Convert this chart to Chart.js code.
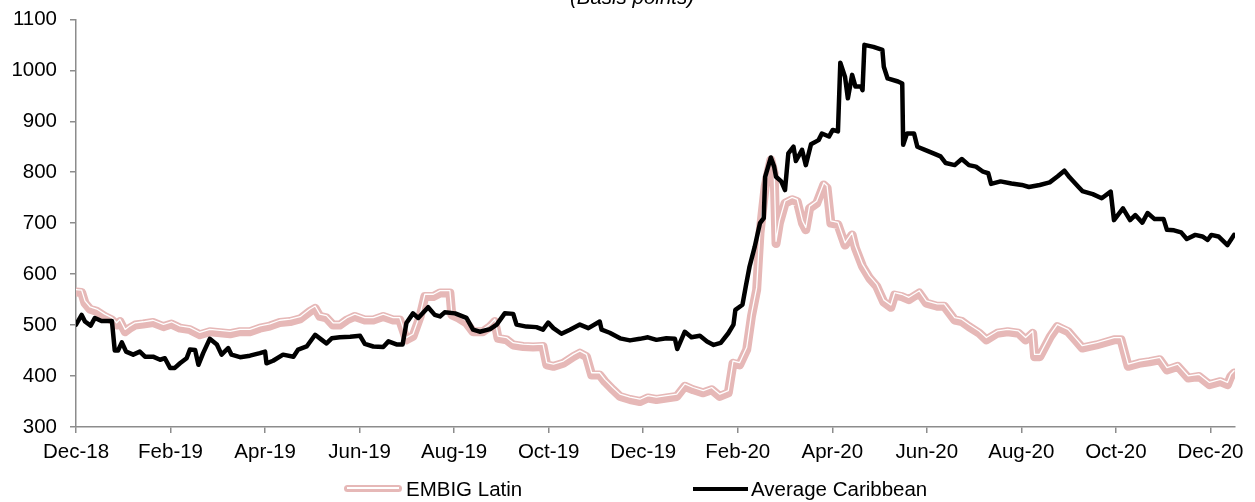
<!DOCTYPE html>
<html>
<head>
<meta charset="utf-8">
<script src="https://cdn.jsdelivr.net/npm/chart.js@4.4.1/dist/chart.umd.min.js"></script>
<style>
  html, body { margin: 0; padding: 0; background: #fff; }
  #wrap { position: relative; width: 1255px; height: 502px; overflow: hidden; font-family: "Liberation Sans", Arial, sans-serif; color: #000; }
  #chart { position: absolute; left: 0; top: 0; }
  .title { position: absolute; left: 0; width: 1264px; top: -13px; text-align: center; font-style: italic; font-size: 20.5px; line-height: 20.5px; }
  .lg-text { position: absolute; top: 477px; font-size: 20.5px; line-height: 24px; white-space: nowrap; }
  .sw-pink { position: absolute; left: 344px; top: 485px; width: 58px; height: 7px; background: #E6B8B7; border-radius: 4px; }
  .sw-pink::after { content: ""; position: absolute; left: 3px; right: 3px; top: 2px; height: 1.5px; background: #fff; }
  .sw-black { position: absolute; left: 693px; top: 487px; width: 55px; height: 4px; background: #000; }
</style>
</head>
<body>
<div id="wrap">
  <canvas id="chart" width="1255" height="502"></canvas>
  <div class="title">(Basis points)</div>
  <div class="sw-pink"></div>
  <div class="lg-text" style="left:406px">EMBIG Latin</div>
  <div class="sw-black"></div>
  <div class="lg-text" style="left:751px">Average Caribbean</div>
</div>
<script>
(() => {
    'use strict';

    // x values are months since the Dec-18 tick
    const tickMonths = [0, 2, 4, 6, 8, 10, 12, 14, 16, 18, 20, 22, 24];
    const tickLabels = ["Dec-18", "Feb-19", "Apr-19", "Jun-19", "Aug-19", "Oct-19", "Dec-19",
        "Feb-20", "Apr-20", "Jun-20", "Aug-20", "Oct-20", "Dec-20"];
    const yTicks = [300, 400, 500, 600, 700, 800, 900, 1000, 1100];

    const caribMonths = [
        0.00, 0.12, 0.19, 0.31, 0.40, 0.54, 0.76, 0.82, 0.89, 0.97,
        1.06, 1.21, 1.35, 1.46, 1.63, 1.78, 1.88, 1.99, 2.09, 2.20,
        2.34, 2.41, 2.52, 2.59, 2.69, 2.83, 2.98, 3.08, 3.22, 3.29,
        3.47, 3.68, 3.89, 4.00, 4.03, 4.17, 4.38, 4.60, 4.70, 4.88,
        5.06, 5.20, 5.30, 5.41, 5.58, 5.80, 6.01, 6.11, 6.29, 6.50,
        6.61, 6.78, 6.91, 6.99, 7.13, 7.24, 7.45, 7.59, 7.70, 7.80,
        8.02, 8.26, 8.40, 8.54, 8.76, 8.90, 9.07, 9.25, 9.32, 9.53,
        9.74, 9.88, 9.99, 10.10, 10.27, 10.45, 10.66, 10.84, 11.08, 11.12,
        11.29, 11.51, 11.72, 11.93, 12.10, 12.28, 12.49, 12.67, 12.72, 12.88,
        13.02, 13.20, 13.35, 13.49, 13.64, 13.80, 13.91, 13.95, 14.10, 14.17,
        14.25, 14.36, 14.47, 14.55, 14.58, 14.70, 14.77, 14.81, 14.92, 15.00,
        15.07, 15.18, 15.23, 15.36, 15.44, 15.55, 15.71, 15.78, 15.93, 16.01,
        16.12, 16.17, 16.27, 16.33, 16.42, 16.49, 16.61, 16.64, 16.68, 16.87,
        17.06, 17.09, 17.17, 17.39, 17.48, 17.50, 17.58, 17.73, 17.80, 17.96,
        18.14, 18.29, 18.40, 18.59, 18.74, 18.89, 19.04, 19.19, 19.30, 19.36,
        19.56, 19.79, 20.01, 20.16, 20.39, 20.60, 20.77, 20.91, 21.02, 21.21,
        21.29, 21.51, 21.70, 21.89, 21.96, 22.15, 22.30, 22.41, 22.56, 22.67,
        22.82, 23.01, 23.08, 23.23, 23.38, 23.50, 23.68, 23.83, 23.94, 24.02,
        24.17, 24.36, 24.43, 24.50
    ];
    const caribValues = [
        501, 520, 507, 499, 514, 508, 508, 450, 450, 466,
        448, 442, 448, 438, 438, 432, 435, 416, 416, 425,
        435, 452, 451, 422, 445, 473, 462, 442, 455, 442,
        437, 440, 445, 448, 425, 430, 442, 438, 452, 458,
        481, 471, 464, 474, 476, 477, 479, 463, 458, 457,
        468, 462, 462, 504, 523, 514, 535, 520, 517, 525,
        523, 514, 491, 487, 492, 501, 523, 522, 501, 497,
        496, 491, 505, 494, 483, 491, 501, 494, 507, 491,
        485, 474, 470, 473, 476, 471, 474, 473, 453, 487,
        476, 479, 468, 461, 465, 484, 501, 530, 540, 576,
        615, 654, 700, 710, 791, 829, 811, 791, 782, 765,
        837, 850, 822, 844, 814, 855, 863, 876, 870, 883,
        880, 1015, 987, 945, 991, 968, 968, 961, 1050, 1046,
        1040, 1007, 984, 978, 974, 854, 876, 876, 850, 844,
        837, 831, 818, 814, 826, 814, 811, 801, 798, 777,
        782, 778, 775, 771, 775, 780, 792, 803, 790, 771,
        763, 757, 749, 762, 706, 729, 706, 716, 701, 720,
        708, 708, 687, 686, 682, 669, 677, 674, 667, 677,
        674, 657, 667, 677
    ];

    const latinMonths = [
        0.00, 0.12, 0.19, 0.30, 0.44, 0.61, 0.76, 0.86, 0.93, 1.04,
        1.14, 1.25, 1.42, 1.63, 1.85, 2.02, 2.20, 2.41, 2.62, 2.83,
        3.05, 3.26, 3.47, 3.68, 3.89, 4.10, 4.31, 4.53, 4.74, 4.95,
        5.06, 5.16, 5.30, 5.44, 5.58, 5.73, 5.90, 6.11, 6.29, 6.50,
        6.71, 6.85, 6.99, 7.13, 7.28, 7.38, 7.56, 7.70, 7.91, 7.95,
        8.09, 8.26, 8.40, 8.61, 8.76, 8.86, 8.93, 9.11, 9.25, 9.46,
        9.67, 9.88, 9.96, 10.10, 10.31, 10.52, 10.66, 10.80, 10.91, 11.08,
        11.19, 11.36, 11.51, 11.72, 11.93, 12.10, 12.28, 12.49, 12.71, 12.88,
        13.06, 13.27, 13.45, 13.62, 13.80, 13.90, 14.04, 14.19, 14.29, 14.40,
        14.47, 14.58, 14.70, 14.77, 14.81, 14.88, 15.00, 15.15, 15.26, 15.37,
        15.44, 15.52, 15.67, 15.82, 15.89, 15.97, 16.12, 16.27, 16.42, 16.49,
        16.64, 16.79, 16.94, 17.09, 17.24, 17.32, 17.47, 17.62, 17.84, 17.99,
        18.22, 18.37, 18.59, 18.74, 18.89, 19.11, 19.26, 19.49, 19.71, 19.94,
        20.09, 20.24, 20.28, 20.39, 20.61, 20.76, 20.99, 21.14, 21.29, 21.59,
        21.96, 22.11, 22.26, 22.49, 22.71, 22.93, 23.08, 23.31, 23.53, 23.76,
        23.98, 24.21, 24.36, 24.43, 24.50
    ];
    const latinValues = [
        565, 564, 543, 531, 527, 517, 510, 500, 507, 487,
        494, 500, 502, 505, 497, 502, 494, 491, 481, 487,
        485, 483, 487, 487, 494, 498, 505, 507, 512, 527,
        533, 517, 514, 500, 500, 510, 517, 510, 510, 517,
        510, 510, 471, 478, 517, 556, 556, 563, 563, 520,
        514, 504, 487, 487, 497, 507, 474, 471, 461, 458,
        457, 458, 422, 419, 425, 438, 445, 438, 402, 402,
        389, 373, 360, 354, 350, 357, 354, 357, 360, 380,
        373, 367, 373, 360, 367, 425, 422, 452, 517, 569,
        680, 772, 824, 798, 660, 700, 739, 746, 742, 700,
        687, 729, 739, 775, 769, 700, 697, 657, 677, 651,
        615, 592, 576, 545, 535, 559, 556, 550, 563, 543,
        537, 537, 510, 507, 497, 484, 471, 484, 487, 484,
        471, 484, 438, 438, 477, 497, 487, 471, 455, 461,
        471, 471, 419, 425, 428, 432, 412, 419, 396, 399,
        383, 389, 383, 399, 406
    ];

    const toPoints = (xs, ys) => xs.map((x, i) => ({ x: x, y: ys[i] }));

    const FAMILY = "'Liberation Sans', Arial, sans-serif";
    const AXIS_GREY = "#8c8c8c";

    // lifts the thin white line toward the top edge of the pink band
    const shiftPlugin = {
        id: "shiftLine",
        beforeDatasetDraw(chart, args) {
            const ds = chart.data.datasets[args.index];
            if (ds.shiftY) {
                chart.ctx.save();
                chart.ctx.translate(0, ds.shiftY);
            }
        },
        afterDatasetDraw(chart, args) {
            if (chart.data.datasets[args.index].shiftY) {
                chart.ctx.restore();
            }
        }
    };

    const lineBase = {
        fill: false,
        tension: 0,
        pointRadius: 0,
        pointHoverRadius: 0,
        borderJoinStyle: "round",
        borderCapStyle: "round"
    };

    new Chart(document.getElementById("chart").getContext("2d"), {
        type: "line",
        data: {
            datasets: [
                Object.assign({}, lineBase, {
                    label: "Average Caribbean",
                    data: toPoints(caribMonths, caribValues),
                    borderColor: "#000000",
                    borderWidth: 4.5,
                    order: 0
                }),
                Object.assign({}, lineBase, {
                    label: "EMBIG Latin inner",
                    data: toPoints(latinMonths, latinValues),
                    borderColor: "#ffffff",
                    borderWidth: 1.3,
                    shiftY: -2.3,
                    order: 1
                }),
                Object.assign({}, lineBase, {
                    label: "EMBIG Latin",
                    data: toPoints(latinMonths, latinValues),
                    borderColor: "#E6B8B7",
                    borderWidth: 9,
                    order: 2
                })
            ]
        },
        options: {
            responsive: false,
            animation: false,
            devicePixelRatio: 1,
            layout: { padding: { top: 10, right: 20, bottom: 0, left: 0 } },
            plugins: {
                legend: { display: false },
                title: { display: false },
                tooltip: { enabled: false }
            },
            scales: {
                x: {
                    type: "linear",
                    min: 0,
                    max: 24.52,
                    afterBuildTicks: (s) => { s.ticks = tickMonths.map(v => ({ value: v })); },
                    afterFit: (s) => { s.height = 75; },
                    ticks: {
                        autoSkip: false,
                        maxRotation: 0,
                        padding: 7,
                        color: "#000",
                        font: { family: FAMILY, size: 20.5 },
                        callback: (v) => tickLabels[tickMonths.indexOf(v)]
                    },
                    grid: { drawOnChartArea: false, drawTicks: true, tickLength: 6, color: AXIS_GREY, lineWidth: 1.5 },
                    border: { display: true, color: AXIS_GREY, width: 1.5 }
                },
                y: {
                    min: 300,
                    max: 1100,
                    afterBuildTicks: (s) => { s.ticks = yTicks.map(v => ({ value: v })); },
                    afterFit: (s) => { s.width = 76; },
                    ticks: {
                        padding: 13,
                        color: "#000",
                        // small line height keeps the scale's top padding near 19px
                        font: { family: FAMILY, size: 20.5, lineHeight: 0.62 },
                        callback: (v) => String(v)
                    },
                    grid: { drawOnChartArea: false, drawTicks: true, tickLength: 6, color: AXIS_GREY, lineWidth: 1.5 },
                    border: { display: true, color: AXIS_GREY, width: 1.5 }
                }
            }
        },
        plugins: [shiftPlugin]
    });
})();
</script>
</body>
</html>
